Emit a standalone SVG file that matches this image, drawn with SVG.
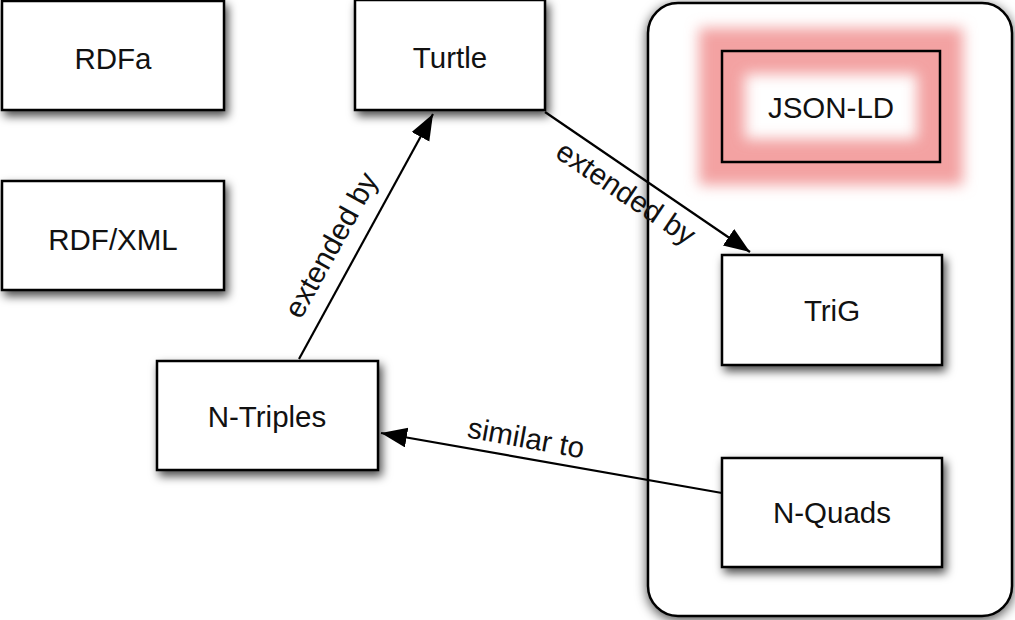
<svg xmlns="http://www.w3.org/2000/svg" width="1015" height="620" viewBox="0 0 1015 620">
  <style>
    .box { fill: #ffffff; stroke: #000000; stroke-width: 2.5; }
    .label { font-family: "Liberation Sans", Arial, sans-serif; font-size: 29.5px; fill: #111111; text-anchor: middle; }
    .edge { fill: none; stroke: #000000; stroke-width: 2.2; marker-end: url(#arrow); }
  </style>
  <defs>
    <filter id="shadow" x="-20%" y="-20%" width="140%" height="150%">
      <feDropShadow dx="3" dy="5" stdDeviation="5" flood-color="#000000" flood-opacity="0.7"/>
    </filter>
    <filter id="groupShadow" x="-10%" y="-10%" width="120%" height="120%">
      <feDropShadow dx="0" dy="3" stdDeviation="6" flood-color="#000000" flood-opacity="0.7"/>
    </filter>
    <filter id="glow" x="-40%" y="-70%" width="180%" height="240%">
      <feGaussianBlur stdDeviation="7"/>
    </filter>
    <marker id="arrow" markerUnits="userSpaceOnUse" markerWidth="28" markerHeight="22" refX="26" refY="10" orient="auto">
      <path d="M0,0 L26,10 L0,20 Z" fill="#000000"/>
    </marker>
  </defs>

  <rect width="1015" height="620" fill="#ffffff"/>

  <!-- container grouping TriG, N-Quads and JSON-LD -->
  <g id="container">
    <rect x="648" y="3" width="364" height="613" rx="30" ry="30" class="box" filter="url(#groupShadow)"/>
  </g>

  <g id="rdfa">
    <rect x="2" y="1" width="222" height="109" class="box" filter="url(#shadow)"/>
    <text x="113" y="69" class="label">RDFa</text>
  </g>

  <g id="rdfxml">
    <rect x="2" y="181" width="222" height="109" class="box" filter="url(#shadow)"/>
    <text x="113" y="250" class="label">RDF/XML</text>
  </g>

  <g id="turtle">
    <rect x="355" y="0" width="190" height="110" class="box" filter="url(#shadow)"/>
    <text x="450" y="68" class="label">Turtle</text>
  </g>

  <g id="ntriples">
    <rect x="157" y="361" width="221" height="109" class="box" filter="url(#shadow)"/>
    <text x="267" y="427" class="label">N-Triples</text>
  </g>

  <!-- JSON-LD with a soft pink highlight around its border -->
  <g id="jsonld">
    <rect x="722" y="51" width="218" height="111" fill="#ffffff"/>
    <rect x="722" y="51" width="218" height="111" fill="none" stroke="#f3a2a2" stroke-width="46" filter="url(#glow)"/>
    <rect x="722" y="51" width="218" height="111" fill="none" stroke="#000000" stroke-width="2.5"/>
    <text x="831" y="118" class="label">JSON-LD</text>
  </g>

  <g id="trig">
    <rect x="722" y="255" width="220" height="110" class="box" filter="url(#shadow)"/>
    <text x="832" y="321" class="label">TriG</text>
  </g>

  <g id="nquads">
    <rect x="722" y="458" width="220" height="109" class="box" filter="url(#shadow)"/>
    <text x="832" y="523" class="label">N-Quads</text>
  </g>

  <g id="connectors">
    <path d="M299,359 L433,114" class="edge"/>
    <path d="M545,112 L750,252" class="edge"/>
    <path d="M722,493 L381,433" class="edge"/>
    <text class="label" transform="translate(331,245) rotate(-61)" y="10">extended by</text>
    <text class="label" transform="translate(626,193) rotate(34)" y="10">extended by</text>
    <text class="label" transform="translate(526,438) rotate(10.3)" y="10">similar to</text>
  </g>
</svg>
